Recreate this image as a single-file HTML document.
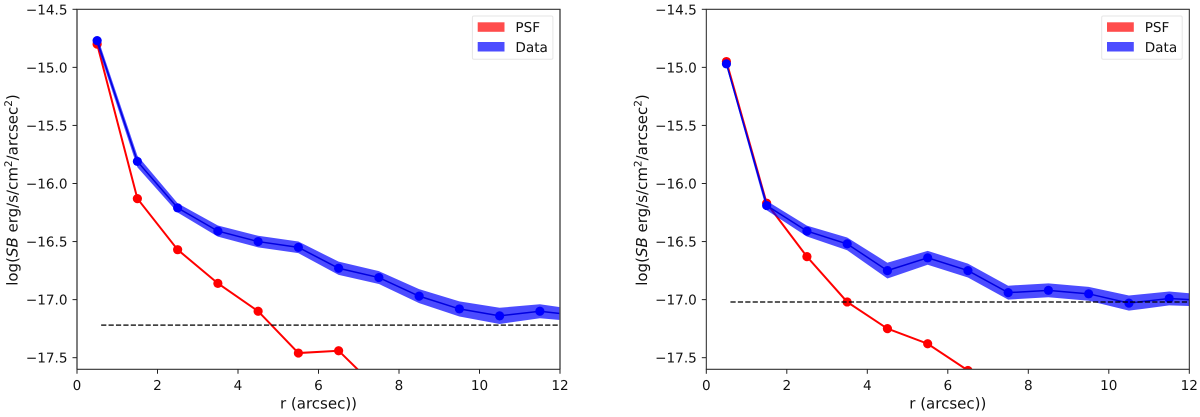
<!DOCTYPE html>
<html>
<head>
<meta charset="utf-8">
<style>
html,body{margin:0;padding:0;background:#fff;width:1200px;height:417px;overflow:hidden}
svg{display:block}
text{font-family:"DejaVu Sans","Liberation Sans",sans-serif;fill:#111;font-size:13.6px;text-rendering:geometricPrecision}
</style>
</head>
<body>
<svg id="figure" width="1200" height="417" viewBox="0 0 1200 417" xmlns="http://www.w3.org/2000/svg">
  <defs>
    <clipPath id="clip-left"><rect x="77" y="9.3" width="483" height="360"/></clipPath>
    <clipPath id="clip-right"><rect x="706.3" y="9.3" width="483" height="360"/></clipPath>
  </defs>
</svg>
<script>
const radii = [0.5, 1.5, 2.5, 3.5, 4.5, 5.5, 6.5, 7.5, 8.5, 9.5, 10.5, 11.5, 12];
const xTicks = [0, 2, 4, 6, 8, 10, 12];
const yTicks = [-14.5, -15.0, -15.5, -16.0, -16.5, -17.0, -17.5];
const yTickLabels = ['\u221214.5', '\u221215.0', '\u221215.5', '\u221216.0', '\u221216.5', '\u221217.0', '\u221217.5'];

const leftData = [-14.77, -15.81, -16.21, -16.41, -16.50, -16.55, -16.73, -16.81, -16.97, -17.08, -17.14, -17.10, -17.12];
const leftErr = [0.04, 0.05, 0.04, 0.048, 0.05, 0.05, 0.057, 0.055, 0.06, 0.065, 0.07, 0.06, 0.055];
const leftPsf = [-14.80, -16.13, -16.57, -16.86, -17.10, -17.46, -17.44, -17.78];
const leftBackground = -17.22;

const rightData = [-14.97, -16.19, -16.41, -16.52, -16.75, -16.64, -16.75, -16.94, -16.92, -16.95, -17.03, -16.99, -17.00];
const rightErr = [0.02, 0.04, 0.047, 0.055, 0.068, 0.06, 0.06, 0.06, 0.06, 0.06, 0.065, 0.06, 0.055];
const rightPsf = [-14.95, -16.17, -16.63, -17.02, -17.25, -17.38, -17.61, -17.85];
const rightBackground = -17.02;

const backgroundStart = 0.6;
const xMin = 0, xMax = 12, yMin = -17.6, yMax = -14.5;

const NS = 'http://www.w3.org/2000/svg';
const fig = document.getElementById('figure');

function make(parent, tag, attrs, text) {
  const el = document.createElementNS(NS, tag);
  for (const k in attrs) el.setAttribute(k, attrs[k]);
  if (text !== undefined) el.textContent = text;
  parent.appendChild(el);
  return el;
}

function drawPanel(p) {
  const sx = v => p.left + (v - xMin) / (xMax - xMin) * p.width;
  const sy = v => p.top + (yMax - v) / (yMax - yMin) * p.height;
  const right = p.left + p.width, bottom = p.top + p.height;

  const g = make(fig, 'g', {});
  
  

  const plot = make(g, 'g', {'clip-path': 'url(#' + p.clip + ')'});
  
  

  const pts = (xs, ys) => ys.map((y, i) => sx(xs[i]).toFixed(2) + ',' + sy(y).toFixed(2)).join(' ');

  const psfLine = make(plot, 'polyline', {points: pts(radii, p.psf), fill: 'none', stroke: '#ff0000', 'stroke-width': 2});
  
  
  p.psf.forEach((v, i) => {
    const c = make(plot, 'circle', {cx: sx(radii[i]), cy: sy(v), r: 4.6, fill: '#ff0000'});
    
    
  });

  const upper = p.data.map((v, i) => v + p.err[i]);
  const lower = p.data.map((v, i) => v - p.err[i]).reverse();
  const band = make(plot, 'polygon', {
    points: pts(radii, upper) + ' ' + pts(radii.slice().reverse(), lower),
    fill: '#0000ff', 'fill-opacity': 0.7
  });
  
  

  const dataLine = make(plot, 'polyline', {points: pts(radii, p.data), fill: 'none', stroke: '#0000e0', 'stroke-width': 1.5});
  
  
  p.data.forEach((v, i) => {
    if (radii[i] >= xMax) return;
    const c = make(plot, 'circle', {cx: sx(radii[i]), cy: sy(v), r: 4.6, fill: '#0000ff'});
    
    
  });

  const bg = make(plot, 'line', {x1: sx(backgroundStart), x2: sx(xMax), y1: sy(p.background), y2: sy(p.background), stroke: '#000', 'stroke-opacity': 0.85, 'stroke-width': 1.5, 'stroke-dasharray': '5.2 2.2'});
  
  

  const spines = make(g, 'g', {});
  
  
  make(spines, 'line', {x1: p.left, x2: p.left, y1: p.top, y2: bottom, stroke: p.sideColor, 'stroke-width': p.sideWidth});
  make(spines, 'line', {x1: right, x2: right, y1: p.top, y2: bottom, stroke: p.sideColor, 'stroke-width': p.sideWidth});
  make(spines, 'line', {x1: p.left - 0.5, x2: right + 0.5, y1: p.top, y2: p.top, stroke: '#333', 'stroke-width': 1.1});
  make(spines, 'line', {x1: p.left - 0.5, x2: right + 0.5, y1: bottom, y2: bottom, stroke: '#333', 'stroke-width': 1.1});

  xTicks.forEach(t => {
    const tick = make(g, 'line', {x1: sx(t), x2: sx(t), y1: bottom, y2: bottom + 4.5, stroke: '#222', 'stroke-width': 1});
    
    
    const lab = make(g, 'text', {x: sx(t), y: 390, 'text-anchor': 'middle'}, String(t));
    
    
  });

  yTicks.forEach((t, i) => {
    const tick = make(g, 'line', {x1: p.left - 4.5, x2: p.left, y1: sy(t), y2: sy(t), stroke: '#222', 'stroke-width': 1});
    
    
    const lab = make(g, 'text', {x: p.left - 9.5, y: sy(t) + 5, 'text-anchor': 'end'}, yTickLabels[i]);
    
    
  });

  const xTitle = make(g, 'text', {x: p.left + p.width / 2, y: 408.5, 'text-anchor': 'middle', style: 'font-size:15px'}, 'r (arcsec))');
  
  

  const yTitle = make(g, 'text', {transform: 'translate(' + (p.left - 59.5) + ',' + 190 + ') rotate(-90)', 'text-anchor': 'middle', style: 'font-size:15px'});
  
  
  make(yTitle, 'tspan', {}, 'log(');
  make(yTitle, 'tspan', {'font-style': 'italic'}, 'SB');
  make(yTitle, 'tspan', {}, ' erg/s/cm');
  make(yTitle, 'tspan', {dy: -5.5, style: 'font-size:10.5px'}, '2');
  make(yTitle, 'tspan', {dy: 5.5}, '/arcsec');
  make(yTitle, 'tspan', {dy: -5.5, style: 'font-size:10.5px'}, '2');
  make(yTitle, 'tspan', {dy: 5.5}, ')');

  const legend = make(g, 'g', {});
  
  
  const lx = p.left + 395.4;
  make(legend, 'rect', {x: lx, y: 16, width: 80.5, height: 43.3, rx: 1.5, fill: '#fff', 'fill-opacity': 0.8, stroke: '#e6e6e6', 'stroke-width': 1});
  const swatchPsf = make(legend, 'rect', {x: lx + 5.3, y: 22.3, width: 26.8, height: 9.5, fill: '#ff0000', 'fill-opacity': 0.7});
  
  
  const textPsf = make(legend, 'text', {x: lx + 43, y: 32}, 'PSF');
  
  
  const swatchData = make(legend, 'rect', {x: lx + 5.3, y: 42, width: 26.8, height: 9.5, fill: '#0000ff', 'fill-opacity': 0.7});
  
  
  const textData = make(legend, 'text', {x: lx + 43, y: 52}, 'Data');
  
  
}

drawPanel({name: 'left', left: 77, top: 9.3, width: 483, height: 360, clip: 'clip-left', data: leftData, err: leftErr, psf: leftPsf, background: leftBackground, sideColor: '#555', sideWidth: 1.5});
drawPanel({name: 'right', left: 706.3, top: 9.3, width: 483, height: 360, clip: 'clip-right', data: rightData, err: rightErr, psf: rightPsf, background: rightBackground, sideColor: '#222', sideWidth: 1});
</script>
</body>
</html>
